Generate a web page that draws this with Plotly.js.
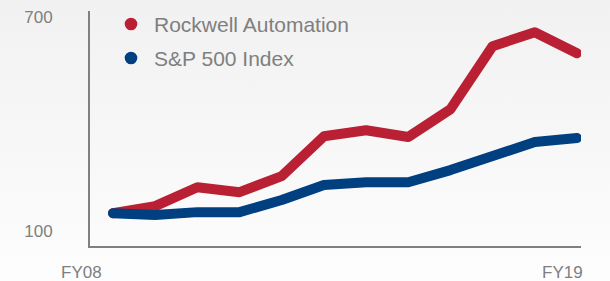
<!DOCTYPE html>
<html>
<head>
<meta charset="utf-8">
<script src="https://cdn.plot.ly/plotly-3.0.1.min.js"></script>
<style>
html,body{margin:0;padding:0;}
body{width:610px;height:281px;background:linear-gradient(to bottom,#f1f1f1 0%,#f7f7f7 50%,#fdfdfd 100%);overflow:hidden;}
#chart{width:610px;height:281px;}
</style>
</head>
<body>
<div id="chart"></div>
<script>
const years = ["FY08","FY09","FY10","FY11","FY12","FY13","FY14","FY15","FY16","FY17","FY18","FY19"];
const rockwell = [150, 170, 223, 209, 254, 366, 383, 364, 442, 619, 658, 599];
const sp500 = [150, 145, 153, 153, 187, 229, 237, 237, 271, 307, 350, 361];
const seriesNames = ["Rockwell Automation", "S&P 500 Index"];
const yTickVals = [100, 700];
const yTickText = ["100", "700"];
const xLabelYears = ["FY08", "FY19"];

const red = "#BA2033", blue = "#003F80", gray = "#7f7f7f";
const xIdx = years.map((_, i) => i);

const W = 610, H = 281;
const M = {l: 90, r: 29, t: 11, b: 35};
const PW = W - M.l - M.r, PH = H - M.t - M.b;
const px = x => (x - M.l) / PW;
const py = y => (H - M.b - y) / PH;

const traces = [
  {x: xIdx, y: rockwell, name: seriesNames[0], mode: "lines", line: {color: red, width: 10}, hoverinfo: "skip"},
  {x: xIdx, y: sp500, name: seriesNames[1], mode: "lines", line: {color: blue, width: 10}, hoverinfo: "skip"}
];

const xShifts = {"FY08": -31, "FY19": -14};
const annotations = xLabelYears.map(lbl => ({
  x: years.indexOf(lbl), y: 0, xref: "x", yref: "paper", yanchor: "top", yshift: -15,
  xshift: xShifts[lbl], text: lbl, showarrow: false,
  font: {family: "Liberation Sans, Arial, sans-serif", size: 17, color: gray}
}));
const legendColors = [red, blue];
const legendY = [24, 58];
const shapes = [];
seriesNames.forEach((n, i) => {
  annotations.push({
    x: px(152), y: py(legendY[i] + 1), xref: "paper", yref: "paper", xanchor: "left", yanchor: "middle",
    text: n.replace("&", "&amp;"),
    showarrow: false, font: {family: "Liberation Sans, Arial, sans-serif", size: 21, color: gray}
  });
  shapes.push({
    type: "circle", xref: "paper", yref: "paper", xsizemode: "pixel", ysizemode: "pixel",
    xanchor: px(131), yanchor: py(legendY[i]), x0: -6.3, x1: 6.3, y0: -6.3, y1: 6.3,
    fillcolor: legendColors[i], line: {width: 0}
  });
});

const layout = {
  width: W, height: H,
  margin: {l: M.l, r: M.r, t: M.t, b: M.b, pad: 0},
  paper_bgcolor: "rgba(0,0,0,0)", plot_bgcolor: "rgba(0,0,0,0)",
  showlegend: false,
  xaxis: {range: [-0.545, 11.095], showgrid: false, zeroline: false, showline: true, linecolor: "#808080", linewidth: 2, showticklabels: false, ticks: "", fixedrange: true},
  yaxis: {range: [57.9, 717.7], showgrid: false, zeroline: false, showline: true, linecolor: "#808080", linewidth: 2, tickvals: yTickVals, ticktext: yTickText, ticks: "", ticklabelstandoff: 32, tickfont: {family: "Liberation Sans, Arial, sans-serif", size: 17, color: gray}, fixedrange: true},
  annotations: annotations,
  shapes: shapes
};

Plotly.newPlot("chart", traces, layout, {displayModeBar: false, staticPlot: true}).then(() => {
  document.querySelectorAll(".scatterlayer .js-line").forEach(p => {
    p.style.strokeLinecap = "round";
    p.style.strokeLinejoin = "round";
  });
});
</script>
</body>
</html>
